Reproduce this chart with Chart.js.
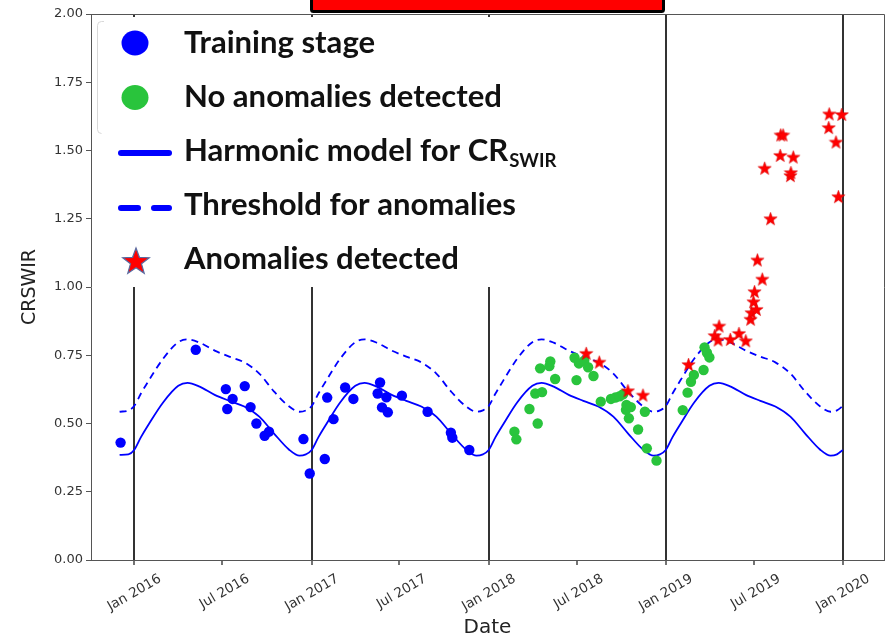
<!DOCTYPE html>
<html>
<head>
<meta charset="utf-8">
<script src="https://cdn.jsdelivr.net/npm/chart.js@4.4.1/dist/chart.umd.min.js"></script>
<style>
  html, body { margin: 0; padding: 0; background: #fff; }
  #wrap { width: 892px; height: 638px; }
</style>
</head>
<body>
<div id="wrap"><canvas id="chart" width="892" height="638"></canvas></div>
<script>
// ---- x axis ticks ----
const tickDates = ['2016-01-01', '2016-07-01', '2017-01-01', '2017-07-01', '2018-01-01',
                   '2018-07-01', '2019-01-01', '2019-07-01', '2020-01-01'];
const tickLabels = ['Jan 2016', 'Jul 2016', 'Jan 2017', 'Jul 2017', 'Jan 2018',
                    'Jul 2018', 'Jan 2019', 'Jul 2019', 'Jan 2020'];

// ---- training stage observations ----
const trainDates = ['2015-12-04', '2016-05-07', '2016-07-08', '2016-07-11', '2016-07-22', '2016-08-16',
                    '2016-08-28', '2016-09-09', '2016-09-26', '2016-10-05', '2016-12-15', '2016-12-28',
                    '2017-01-28', '2017-02-02', '2017-02-15', '2017-03-11', '2017-03-28', '2017-05-17',
                    '2017-05-22', '2017-05-26', '2017-06-04', '2017-06-07', '2017-07-06', '2017-08-28',
                    '2017-10-15', '2017-10-18', '2017-11-22'];
const trainValues = [0.43, 0.77, 0.626, 0.553, 0.59, 0.637,
                     0.56, 0.50, 0.455, 0.47, 0.443, 0.317,
                     0.37, 0.595, 0.516, 0.632, 0.59, 0.61,
                     0.65, 0.559, 0.596, 0.541, 0.602, 0.543,
                     0.466, 0.448, 0.403];

// ---- monitored, normal ----
const normalDates = ['2018-02-23', '2018-02-27', '2018-03-26', '2018-04-07', '2018-04-12', '2018-04-17',
                     '2018-04-21', '2018-05-06', '2018-05-08', '2018-05-18', '2018-06-27', '2018-07-01',
                     '2018-07-06', '2018-07-17', '2018-07-25', '2018-08-05', '2018-08-20', '2018-09-10',
                     '2018-09-19', '2018-09-28', '2018-10-05', '2018-10-11', '2018-10-12', '2018-10-17',
                     '2018-10-21', '2018-11-05', '2018-11-19', '2018-11-23', '2018-12-13',
                     '2019-02-05', '2019-02-15', '2019-02-22', '2019-02-28', '2019-03-20', '2019-03-22',
                     '2019-03-27', '2019-04-01'];
const normalValues = [0.47, 0.442, 0.553, 0.61, 0.50, 0.702,
                      0.615, 0.71, 0.727, 0.663, 0.741, 0.659,
                      0.72, 0.73, 0.706, 0.674, 0.58, 0.59,
                      0.595, 0.60, 0.607, 0.55, 0.568, 0.519,
                      0.56, 0.478, 0.543, 0.409, 0.364,
                      0.549, 0.613, 0.653, 0.678, 0.696, 0.779,
                      0.759, 0.742];

// ---- monitored, anomalous ----
const anomalyDates = ['2018-07-21', '2018-08-17', '2018-10-15', '2018-11-15',
                      '2019-02-17', '2019-04-12', '2019-04-19', '2019-04-21', '2019-05-14', '2019-06-01',
                      '2019-06-15', '2019-06-25', '2019-06-27', '2019-07-01', '2019-07-03', '2019-07-07',
                      '2019-07-09', '2019-07-19', '2019-07-24', '2019-08-05', '2019-08-26', '2019-08-31',
                      '2019-08-25', '2019-09-15', '2019-09-16', '2019-09-21', '2019-12-03', '2019-12-04',
                      '2019-12-18', '2019-12-23', '2019-12-30'];
const anomalyValues = [0.757, 0.725, 0.62, 0.604,
                       0.716, 0.822, 0.806, 0.857, 0.808, 0.83,
                       0.803, 0.882, 0.906, 0.946, 0.983, 0.918,
                       1.099, 1.029, 1.435, 1.25, 1.557, 1.557,
                       1.482, 1.408, 1.419, 1.476, 1.584, 1.634,
                       1.531, 1.331, 1.632];

// ---- harmonic model and threshold ----
const curveDates = ['2015-12-02', '2015-12-20',
  '2016-01-01', '2016-01-15', '2016-02-01', '2016-03-01', '2016-04-01', '2016-04-20', '2016-05-15',
  '2016-06-15', '2016-07-15', '2016-08-15', '2016-09-15', '2016-10-15', '2016-11-15', '2016-12-07', '2016-12-20',
  '2017-01-01', '2017-01-15', '2017-02-01', '2017-03-01', '2017-04-01', '2017-04-20', '2017-05-15',
  '2017-06-15', '2017-07-15', '2017-08-15', '2017-09-15', '2017-10-15', '2017-11-15', '2017-12-07', '2017-12-20',
  '2018-01-01', '2018-01-15', '2018-02-01', '2018-03-01', '2018-04-01', '2018-04-20', '2018-05-15',
  '2018-06-15', '2018-07-15', '2018-08-15', '2018-09-15', '2018-10-15', '2018-11-15', '2018-12-07', '2018-12-20',
  '2019-01-01', '2019-01-15', '2019-02-01', '2019-03-01', '2019-04-01', '2019-04-20', '2019-05-15',
  '2019-06-15', '2019-07-15', '2019-08-15', '2019-09-15', '2019-10-15', '2019-11-15', '2019-12-07', '2019-12-20',
  '2020-01-01'];
const modelValues = [0.385, 0.387,
  0.403, 0.45, 0.50, 0.578, 0.638, 0.649, 0.635, 0.605, 0.583, 0.562, 0.525, 0.464, 0.405, 0.382, 0.387,
  0.403, 0.45, 0.50, 0.578, 0.638, 0.649, 0.635, 0.605, 0.583, 0.562, 0.525, 0.464, 0.405, 0.382, 0.387,
  0.403, 0.45, 0.50, 0.578, 0.638, 0.649, 0.635, 0.605, 0.583, 0.562, 0.525, 0.464, 0.405, 0.382, 0.387,
  0.403, 0.45, 0.50, 0.578, 0.638, 0.649, 0.635, 0.605, 0.583, 0.562, 0.525, 0.464, 0.405, 0.382, 0.387,
  0.403];
const thresholdValues = [0.543, 0.548,
  0.564, 0.61, 0.66, 0.738, 0.798, 0.808, 0.796, 0.767, 0.745, 0.724, 0.683, 0.618, 0.563, 0.543, 0.548,
  0.564, 0.61, 0.66, 0.738, 0.798, 0.808, 0.796, 0.767, 0.745, 0.724, 0.683, 0.618, 0.563, 0.543, 0.548,
  0.564, 0.61, 0.66, 0.738, 0.798, 0.808, 0.796, 0.767, 0.745, 0.724, 0.683, 0.618, 0.563, 0.543, 0.548,
  0.564, 0.61, 0.66, 0.738, 0.798, 0.808, 0.796, 0.767, 0.745, 0.724, 0.683, 0.618, 0.563, 0.543, 0.548,
  0.564];

const legendLabels = ['Training stage', 'No anomalies detected', 'Harmonic model for CR',
                      'Threshold for anomalies', 'Anomalies detected'];

const BLUE = '#0000ff';
const GREEN = '#29c43c';
const RED = '#ff0000';

const toDay = s => Date.parse(s) / 86400000;
const toPoints = (dates, values) => dates.map((d, i) => ({ x: toDay(d), y: values[i] }));

// filled five-point star
function drawStar(ctx, cx, cy, outer, inner, fill, stroke, lw) {
    ctx.beginPath();
    for (let i = 0; i < 10; i++) {
        const r = i % 2 === 0 ? outer : inner;
        const a = -Math.PI / 2 + i * Math.PI / 5;
        const px = cx + r * Math.cos(a), py = cy + r * Math.sin(a);
        i === 0 ? ctx.moveTo(px, py) : ctx.lineTo(px, py);
    }
    ctx.closePath();
    ctx.fillStyle = fill;
    ctx.fill();
    if (stroke) {
        ctx.strokeStyle = stroke;
        ctx.lineWidth = lw;
        ctx.stroke();
    }
}

const starImg = document.createElement('canvas');
starImg.width = 15;
starImg.height = 15;
drawStar(starImg.getContext('2d'), 7.5, 8, 7, 2.9, RED, 'rgba(210,0,0,0.8)', 0.6);

const tickValues = tickDates.map(toDay);

// legend panel, frame edges and the red tab on top
const overlay = {
    id: 'overlay',
    afterDraw(chart) {
        const ctx = chart.ctx;
        const a = chart.chartArea;
        ctx.save();

        // frame top/right
        ctx.strokeStyle = '#555';
        ctx.lineWidth = 1;
        ctx.beginPath();
        ctx.moveTo(a.left, a.top + 0.5);
        ctx.lineTo(a.right + 0.5, a.top + 0.5);
        ctx.lineTo(a.right + 0.5, a.bottom);
        ctx.stroke();

        // legend background
        ctx.fillStyle = '#fff';
        ctx.fillRect(a.left + 1, 17, 510, 270);

        // faint rounded frame left over at the top left
        ctx.strokeStyle = '#d8d8d8';
        ctx.lineWidth = 1;
        ctx.beginPath();
        ctx.moveTo(104, 21.5);
        ctx.arcTo(97.5, 21.5, 97.5, 28, 4);
        ctx.lineTo(97.5, 129);
        ctx.arcTo(97.5, 133.5, 104, 133.5, 4);
        ctx.stroke();

        // symbols
        ctx.fillStyle = BLUE;
        ctx.beginPath();
        ctx.ellipse(135, 43, 13.5, 12.5, 0, 0, Math.PI * 2);
        ctx.fill();
        ctx.fillStyle = GREEN;
        ctx.beginPath();
        ctx.ellipse(135, 97.5, 13.5, 12.5, 0, 0, Math.PI * 2);
        ctx.fill();

        ctx.strokeStyle = BLUE;
        ctx.lineWidth = 6;
        ctx.lineCap = 'round';
        ctx.beginPath();
        ctx.moveTo(121, 153);
        ctx.lineTo(169, 153);
        ctx.stroke();
        ctx.beginPath();
        ctx.moveTo(121, 208);
        ctx.lineTo(138, 208);
        ctx.moveTo(154, 208);
        ctx.lineTo(169, 208);
        ctx.stroke();

        drawStar(ctx, 136, 262, 14, 5.8, RED, '#5a6aa0', 1.2);

        // texts
        ctx.font = 'bold 24px Lato';
        const scale = 318 / ctx.measureText(legendLabels[1]).width;
        const size = 24 * scale;
        ctx.font = `bold ${size}px Lato`;
        ctx.fillStyle = '#111';
        ctx.textAlign = 'left';
        ctx.textBaseline = 'alphabetic';
        const baselines = [53, 107, 161, 215, 269];
        legendLabels.forEach((t, i) => ctx.fillText(t, 184, baselines[i]));
        const crW = ctx.measureText(legendLabels[2]).width;
        ctx.font = `bold ${size * 0.6}px Lato`;
        ctx.fillText('SWIR', 184 + crW + 1, 167);

        // red tab
        ctx.fillStyle = RED;
        ctx.strokeStyle = '#000';
        ctx.lineWidth = 3;
        ctx.beginPath();
        ctx.roundRect(311.5, -4, 352, 15.5, 2);
        ctx.fill();
        ctx.stroke();

        ctx.restore();
    }
};

new Chart(document.getElementById('chart'), {
    type: 'scatter',
    data: {
        datasets: [
            {
                label: 'Anomalies detected',
                data: toPoints(anomalyDates, anomalyValues),
                pointStyle: starImg,
                pointRadius: 7
            },
            {
                label: 'No anomalies detected',
                data: toPoints(normalDates, normalValues),
                backgroundColor: GREEN,
                borderWidth: 0,
                pointRadius: 5.2
            },
            {
                label: 'Training stage',
                data: toPoints(trainDates, trainValues),
                backgroundColor: BLUE,
                borderWidth: 0,
                pointRadius: 5.2
            },
            {
                label: 'Threshold for anomalies',
                type: 'line',
                data: toPoints(curveDates, thresholdValues),
                borderColor: BLUE,
                borderWidth: 1.8,
                borderDash: [7, 5],
                pointRadius: 0,
                cubicInterpolationMode: 'monotone',
                fill: false
            },
            {
                label: 'Harmonic model for CR_SWIR',
                type: 'line',
                data: toPoints(curveDates, modelValues),
                borderColor: BLUE,
                borderWidth: 1.8,
                pointRadius: 0,
                cubicInterpolationMode: 'monotone',
                fill: false
            }
        ]
    },
    options: {
        responsive: false,
        animation: false,
        devicePixelRatio: 1,
        layout: { padding: { top: 14, right: 4, left: 0, bottom: 0 } },
        plugins: {
            legend: { display: false },
            tooltip: { enabled: false }
        },
        scales: {
            x: {
                type: 'linear',
                min: toDay('2015-10-04'),
                max: toDay('2020-03-26'),
                afterBuildTicks: scale => {
                    scale.ticks = tickValues.map(v => ({ value: v }));
                },
                afterFit: scale => { scale.height = 78; },
                ticks: {
                    autoSkip: false,
                    minRotation: 30,
                    maxRotation: 30,
                    labelOffset: 26,
                    padding: 6,
                    color: '#333',
                    font: { family: 'DejaVu Sans', size: 13.5 },
                    callback: v => tickLabels[tickValues.indexOf(v)] ?? ''
                },
                grid: {
                    color: ctx => (ctx.tick && tickValues.indexOf(ctx.tick.value) % 2 === 0) ? '#333' : 'rgba(0,0,0,0)',
                    lineWidth: 2,
                    tickColor: '#444',
                    tickWidth: 1.5,
                    tickLength: 5
                },
                border: { color: '#555', width: 1 },
                title: {
                    display: true,
                    text: 'Date',
                    color: '#222',
                    font: { family: 'DejaVu Sans', size: 20 },
                    padding: { top: 0, bottom: -2 }
                }
            },
            y: {
                min: 0,
                max: 2,
                afterFit: scale => { scale.width = 91; },
                ticks: {
                    stepSize: 0.25,
                    color: '#333',
                    padding: 3,
                    font: { family: 'DejaVu Sans', size: 13 },
                    callback: v => v.toFixed(2)
                },
                grid: {
                    drawOnChartArea: false,
                    tickColor: '#555',
                    tickLength: 5
                },
                border: { color: '#555', width: 1 },
                title: {
                    display: true,
                    text: 'CRSWIR',
                    color: '#222',
                    font: { family: 'DejaVu Sans', size: 19 },
                    padding: { top: 19, bottom: 0 }
                }
            }
        }
    },
    plugins: [overlay]
});
</script>
</body>
</html>
